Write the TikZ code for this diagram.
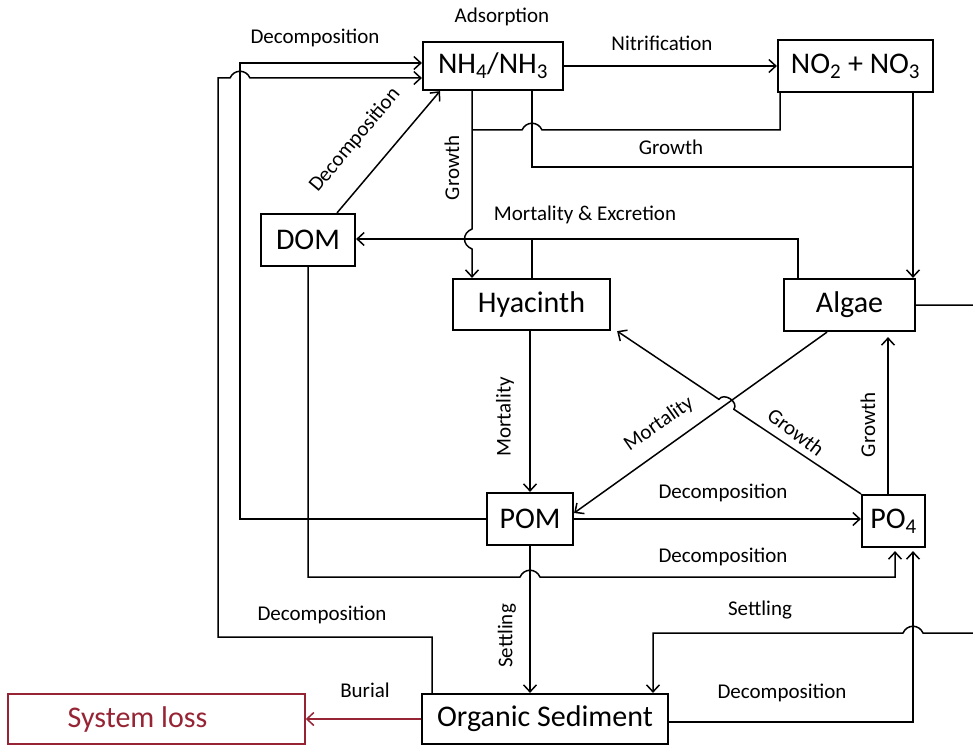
\documentclass[tikz,border=0pt]{standalone}
\usepackage{fontspec}
\setmainfont{Carlito}
\usetikzlibrary{arrows.meta}
\definecolor{lossred}{RGB}{150,36,52}
\begin{document}
\begin{tikzpicture}[x=1pt,y=-1pt,
  box/.style={draw, line width=2.2pt, inner sep=0pt, font=\fontsize{30}{34}\selectfont},
  link/.style={line width=1.5pt},
  flow/.style={line width=1.5pt, -{Straight Barb[length=7pt,width=13pt,line width=1.5pt]}},
  lbl/.style={font=\fontsize{21}{24}\selectfont, inner sep=0pt}]
\useasboundingbox (0,0) rectangle (973,746);
\clip (0,0) rectangle (973,746);

% compartments
\node[box, minimum width=140, minimum height=48] (nh)  at (493,66)    {NH\textsubscript{4}/NH\textsubscript{3}};
\node[box, minimum width=155, minimum height=52] (no)  at (855.5,66)  {NO\textsubscript{2} + NO\textsubscript{3}};
\node[box, minimum width=94,  minimum height=52] (dom) at (308,240)   {DOM};
\node[box, minimum width=157, minimum height=51] (hy)  at (531.5,304.5) {Hyacinth};
\node[box, minimum width=131, minimum height=52] (al)  at (849.5,305) {Algae};
\node[box, minimum width=86,  minimum height=52] (pom) at (530,519)   {POM};
\node[box, minimum width=63,  minimum height=52] (po)  at (893.5,521) {PO\textsubscript{4}};
\node[box, minimum width=246, minimum height=50] (os)  at (545,719)   {Organic Sediment};
\node[box, draw=lossred, text=lossred, line width=1.5pt, minimum width=297, minimum height=50]
     (loss) at (156.5,719) {System loss\hspace*{38pt}};

% nitrogen pathways
\draw[flow] (nh.east) -- (no.west |- nh.east);
\draw[flow] (pom.west) -| (240,63) -- (nh.west |- 240,63);
\draw[flow] (os.north -| 432,0) -- (432,637) -- (218,637) -- (218,78) -- (230,78)
  .. controls (234,69) and (246,69) .. (250,78) -- (nh.west |- 0,78);
\draw[flow] (dom.north -| 337,0) -- (nh.south -| 440,0);
\draw[flow] (nh.south -| 472,0) -- (472,229)
  .. controls (462,233) and (462,245) .. (472,249) -- (hy.north -| 472,0);
\draw[link] (no.south -| 780,0) -- (780,130) -- (542,130)
  .. controls (538,121) and (526,121) .. (522,130) -- (472,130);
\draw[link] (nh.south -| 532,0) -- (532,167) -- (913,167);
\draw[flow] (no.south -| 913,0) -- (al.north -| 913,0);

% mortality and excretion
\draw[flow] (al.north -| 798,0) -- (798,239) -- (dom.east |- 0,239);
\draw[link] (hy.north -| 532,0) -- (532,239);
\draw[flow] (hy.south -| 530,0) -- (pom.north -| 530,0);
\draw[flow] (al.south -| 827,0) -- (pom.east |- 0,513);

% phosphorus pathways
\draw[flow] (po.north west) -- (733.9,409.3)
  .. controls (739,402) and (724,392) .. (718.9,399.3) -- ([xshift=6pt]hy.south east);
\draw[flow, shorten >=5pt] (po.north -| 888,0) -- (al.south -| 888,0);
\draw[flow] (pom.east) -- (po.west |- pom.east);
\draw[flow, shorten >=3pt] (dom.south -| 308,0) -- (308,577) -- (520,577)
  .. controls (524,568) and (536,568) .. (540,577) -- (895,577) -- (po.south -| 895,0);

% sediment exchange
\draw[flow] (al.east) -- (990,305) -- (990,633) -- (923,633)
  .. controls (919,624) and (907,624) .. (903,633) -- (653,633) -- (os.north -| 653,0);
\draw[flow] (pom.south -| 530,0) -- (os.north -| 530,0);
\draw[flow, shorten >=3pt] (os.east |- 0,722) -- (913,722) -- (po.south -| 913,0);
\draw[flow, draw=lossred] (os.west) -- (loss.east);

% flow labels
\node[lbl] (l1)  at (502,17)  {Adsorption};
\node[lbl] (l2)  at (315,38)  {Decomposition};
\node[lbl] (l3)  at (662,43)  {Nitrification};
\node[lbl, rotate=50] (l4) at (355,140) {Decomposition};
\node[lbl, rotate=90] (l5) at (452,168) {Growth};
\node[lbl] (l6)  at (671,147) {Growth};
\node[lbl] (l7)  at (585,215) {Mortality \& Excretion};
\node[lbl, rotate=90] (l8) at (505,417) {Mortality};
\node[lbl, rotate=35] (l9) at (659,424) {Mortality};
\node[lbl, rotate=-37] (l10) at (796,432) {Growth};
\node[lbl, rotate=90] (l11) at (868,425) {Growth};
\node[lbl] (l12) at (723,493) {Decomposition};
\node[lbl] (l13) at (723,557) {Decomposition};
\node[lbl, rotate=90] (l14) at (507,636) {Settling};
\node[lbl] (l15) at (760,610) {Settling};
\node[lbl] (l16) at (782,693) {Decomposition};
\node[lbl] (l17) at (322,615) {Decomposition};
\node[lbl] (l18) at (365,690) {Burial};
\end{tikzpicture}
\end{document}
